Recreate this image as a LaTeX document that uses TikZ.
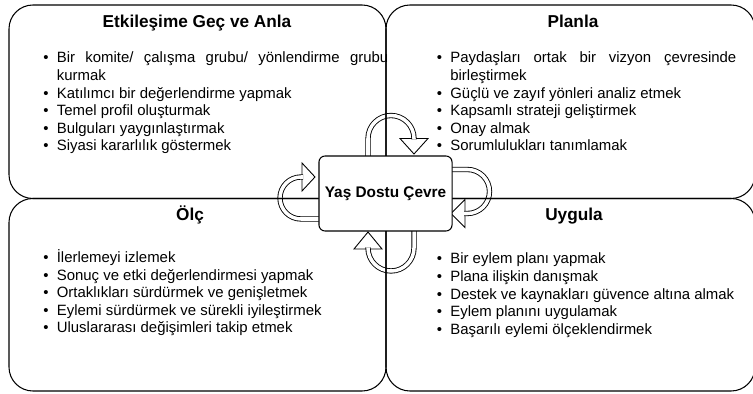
\documentclass[tikz,border=0pt]{standalone}
\usepackage{fontspec}
\setmainfont{Liberation Sans}
\tolerance=9999
\hyphenpenalty=10000
\newcommand{\itm}[1]{\hangindent=0.27cm\hangafter=1\noindent\makebox[0.27cm][l]{\textbullet}#1\par}

\begin{document}
\begin{tikzpicture}[x=0.02cm, y=-0.02cm,
    quad/.style={draw, line width=0.6pt, rounded corners=13.6pt},
    title/.style={anchor=base, font=\bfseries\fontsize{9.8}{12}\selectfont},
    items/.style={anchor=base west, inner sep=0pt, font=\fontsize{8.5}{10}\selectfont},
    hub/.style={draw, line width=0.6pt, fill=white, rounded corners=3.4pt, minimum width=2.58cm, minimum height=1.5cm, font=\bfseries\fontsize{8.75}{10}\selectfont},
    band/.style={draw, line width=0.5pt, double=white, double distance=2pt},
    head/.style={draw, line width=0.5pt, fill=white, line join=miter}]

    \useasboundingbox (0,0) rectangle (753,394);

    % u-turn arrows round the hub
    \filldraw[head] (400,138.5) -- (428,138.5) -- (414,154) -- cycle;
    \draw[band] (368,160) -- (368,138.5) arc[start angle=180, end angle=360, radius=23] -- (414,139.5);
    \filldraw[head] (465,199.5) -- (465,227.5) -- (451,213.5) -- cycle;
    \draw[band] (446,169.5) -- (467.5,169.5) arc[start angle=270, end angle=450, radius=22] -- (464,213.5);
    \filldraw[head] (354,249) -- (382,249) -- (368,232) -- cycle;
    \draw[band] (414,227) -- (414,248) arc[start angle=0, end angle=180, radius=23] -- (368,247.5);
    \filldraw[head] (302,163) -- (302,191) -- (315,177) -- cycle;
    \draw[band] (325,219) -- (301,219) arc[start angle=90, end angle=270, radius=21] -- (303,177);

    % quadrants
    \draw[quad] (9,5) rectangle (386,198.5);
    \draw[quad] (386,5) rectangle (755,198.5);
    \draw[quad] (9,198.5) rectangle (386,391);
    \draw[quad] (386,198.5) rectangle (755,391);

    \node[title] (engage) at (197,27.5) {Etkileşime Geç ve Anla};
    \node[title] (plan) at (573,27.5) {Planla};
    \node[title] (measure) at (190,221) {Ölç};
    \node[title] (act) at (574,221) {Uygula};

    \node[items, text width=6.9cm, align=justify] (engagelist) at (43,63) {%
        \itm{Bir komite/ çalışma grubu/ yönlendirme grubu\linebreak kurmak}
        \itm{Katılımcı bir değerlendirme yapmak}
        \itm{Temel profil oluşturmak}
        \itm{Bulguları yaygınlaştırmak}
        \itm{Siyasi kararlılık göstermek}};
    \node[items, text width=5.99cm, align=justify] (planlist) at (436.5,63) {%
        \itm{Paydaşları ortak bir vizyon çevresinde\linebreak birleştirmek}
        \itm{Güçlü ve zayıf yönleri analiz etmek}
        \itm{Kapsamlı strateji geliştirmek}
        \itm{Onay almak}
        \itm{Sorumlulukları tanımlamak}};
    \node[items, text width=6.6cm, align=justify] (measurelist) at (43,262.5) {%
        \itm{İlerlemeyi izlemek}
        \itm{Sonuç ve etki değerlendirmesi yapmak}
        \itm{Ortaklıkları sürdürmek ve genişletmek}
        \itm{Eylemi sürdürmek ve sürekli iyileştirmek}
        \itm{Uluslararası değişimleri takip etmek}};
    \node[items, text width=6.3cm, align=justify] (actlist) at (436.5,264) {%
        \itm{Bir eylem planı yapmak}
        \itm{Plana ilişkin danışmak}
        \itm{Destek ve kaynakları güvence altına almak}
        \itm{Eylem planını uygulamak}
        \itm{Başarılı eylemi ölçeklendirmek}};

    \node[hub] (hub) at (385.5,193.5) {Yaş Dostu Çevre};
\end{tikzpicture}
\end{document}
